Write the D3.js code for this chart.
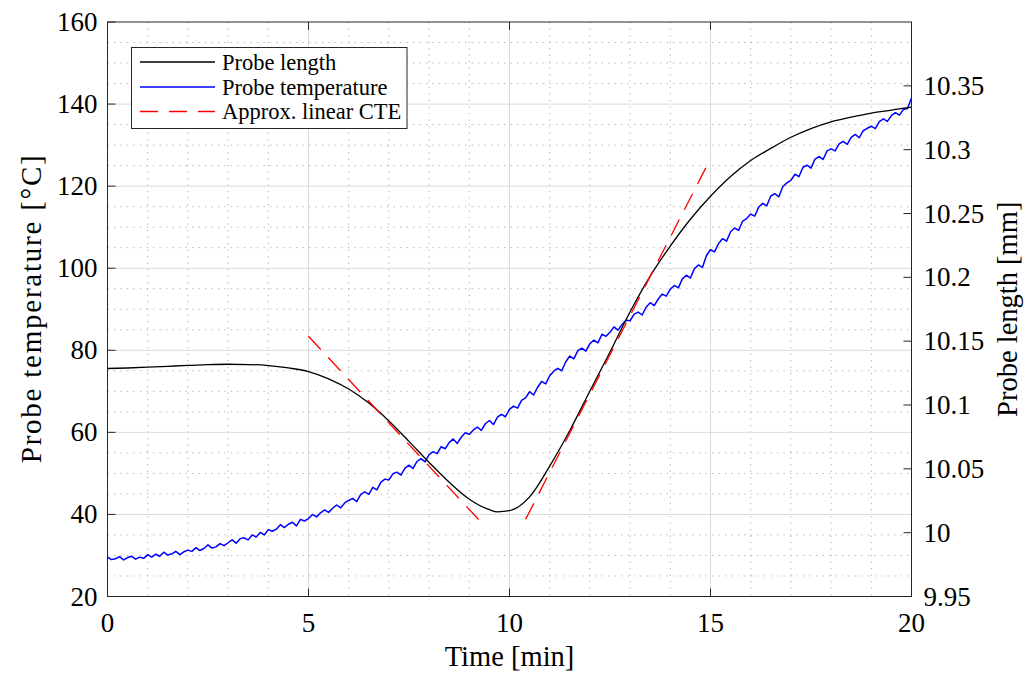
<!DOCTYPE html>
<html>
<head>
<meta charset="utf-8">
<script src="https://cdn.jsdelivr.net/npm/d3@7"></script>
<style>
  body { margin: 0; background: #fff; }
  svg { display: block; font-family: "Liberation Serif", "Times New Roman", serif; }
</style>
</head>
<body>
<svg id="chart" width="1027" height="675"></svg>
<script>
'use strict';

// time axis [min]
var timeTicks = [0, 5, 10, 15, 20];
var tempTicks = [20, 40, 60, 80, 100, 120, 140, 160];
var lengthTicks = [9.95, 10, 10.05, 10.1, 10.15, 10.2, 10.25, 10.3, 10.35];
var lengthTickLabels = ['9.95', '10', '10.05', '10.1', '10.15', '10.2', '10.25', '10.3', '10.35'];

// probe length [mm]
var lengthTime = [0, 0.5, 1, 1.5, 2, 2.5, 3, 3.5, 4, 4.5, 5, 5.5, 6, 6.5, 7, 7.5, 8, 8.5, 9, 9.5,
  9.7, 10, 10.5, 11, 11.5, 12, 12.5, 13, 13.5, 14, 14.5, 15, 15.5, 16, 16.5, 17, 17.5, 18, 18.5,
  19, 19.5, 20];
var lengthValues = [10.1286, 10.1290, 10.1296, 10.1303, 10.1310, 10.1316, 10.1319, 10.1317,
  10.1309, 10.1290, 10.1262, 10.1205, 10.1125, 10.1015, 10.0875, 10.0715, 10.0550, 10.0395,
  10.0262, 10.0180, 10.0163, 10.0172, 10.0280, 10.0521, 10.0800, 10.1110, 10.1415, 10.1730,
  10.2010, 10.2245, 10.2455, 10.2635, 10.2790, 10.2915, 10.3010, 10.3097, 10.3165, 10.3218,
  10.3255, 10.3287, 10.3310, 10.3333];

// probe temperature [degC], one sample every 0.1 min
var tempValues = [
  29.6, 29.0, 29.2, 29.7, 28.9, 29.5, 29.8, 29.1, 29.6, 29.3,
  30.2, 29.6, 30.3, 29.8, 30.8, 30.1, 30.4, 31.0, 30.2, 30.9,
  31.3, 31.0, 31.9, 31.2, 31.7, 32.6, 31.8, 32.1, 32.9, 32.4,
  33.1, 33.8, 33.0, 34.1, 34.3, 33.8, 35.0, 34.5, 35.6, 35.0,
  36.3, 35.9, 36.4, 37.5, 36.8, 37.6, 38.1, 37.2, 38.8, 38.4,
  39.0, 40.0, 39.4, 40.4, 41.1, 40.5, 41.5, 42.3, 41.6, 42.8,
  43.4, 43.9, 43.1, 44.9, 45.5, 44.9, 46.6, 46.0, 47.8, 48.6,
  48.4, 49.9, 50.3, 49.6, 51.3, 52.0, 51.2, 52.9, 53.6, 52.8,
  54.6, 55.3, 54.8, 56.5, 56.0, 57.5, 58.4, 57.3, 58.8, 59.9,
  59.5, 60.6, 61.3, 60.5, 62.1, 62.9, 61.9, 63.7, 64.4, 63.8,
  65.6, 66.4, 65.9, 67.8, 68.4, 69.9, 69.1, 71.0, 72.4, 71.8,
  73.8, 74.9, 75.6, 75.0, 77.2, 78.6, 77.9, 79.9, 80.5, 79.8,
  81.6, 82.5, 81.8, 83.9, 83.4, 84.4, 85.7, 84.9, 86.3, 87.3,
  87.2, 88.8, 89.3, 88.6, 90.5, 91.6, 90.9, 92.5, 93.7, 93.2,
  94.9, 95.8, 95.2, 97.4, 98.3, 97.6, 99.9, 100.8, 100.2, 103.1,
  104.5, 104.0, 106.0, 107.2, 106.6, 108.9, 109.8, 109.2, 111.5, 112.1,
  113.2, 112.7, 114.9, 115.8, 115.2, 117.6, 118.2, 117.4, 119.9, 120.8,
  121.4, 122.9, 122.3, 124.6, 125.1, 124.4, 126.6, 127.2, 126.5, 128.6,
  129.1, 128.6, 130.3, 130.9, 130.2, 131.9, 132.6, 131.8, 133.5, 134.1,
  134.6, 134.0, 135.7, 136.4, 135.8, 137.2, 137.9, 137.3, 138.7, 138.9,
  141.5];
var tempStep = 0.1;

// approx. linear CTE fits, two segments: [t, mm]
var cteCooling = [[5.0, 10.1538], [9.4, 10.0046]];
var cteHeating = [[10.4, 10.0104], [15.0, 10.2929]];

var legendLabels = ['Probe length', 'Probe temperature', 'Approx. linear CTE'];

var axisColor = '#262626';
var plot = {left: 107.5, right: 911.5, top: 22, bottom: 596.5};

var svg = d3.select('#chart');

var x = d3.scaleLinear().domain([0, 20]).range([plot.left, plot.right]);
var yTemp = d3.scaleLinear().domain([20, 160]).range([plot.bottom, plot.top]);
var yLen = d3.scaleLinear().domain([9.95, 10.40]).range([plot.bottom, plot.top]);

// grid
var grid = svg.append('g');
grid.selectAll('line.minor-x')
  .data(d3.range(1, 20).filter(function(d) { return d % 5 !== 0; }))
  .enter().append('line')
  .attr('x1', function(d) { return x(d); })
  .attr('x2', function(d) { return x(d); })
  .attr('y1', plot.top).attr('y2', plot.bottom)
  .attr('stroke', '#b0b0b0').attr('stroke-width', 1)
  .attr('stroke-dasharray', '1.3,5.2');
grid.selectAll('line.minor-y')
  .data(d3.range(25, 160, 5).filter(function(d) { return d % 20 !== 0; }))
  .enter().append('line')
  .attr('x1', plot.left).attr('x2', plot.right)
  .attr('y1', function(d) { return yTemp(d); })
  .attr('y2', function(d) { return yTemp(d); })
  .attr('stroke', '#b0b0b0').attr('stroke-width', 1)
  .attr('stroke-dasharray', '1.3,5.2');
grid.selectAll('line.major-x')
  .data(timeTicks.slice(1, -1))
  .enter().append('line')
  .attr('x1', function(d) { return x(d); })
  .attr('x2', function(d) { return x(d); })
  .attr('y1', plot.top).attr('y2', plot.bottom)
  .attr('stroke', '#dadada').attr('stroke-width', 1);
grid.selectAll('line.major-y')
  .data(tempTicks.slice(1, -1))
  .enter().append('line')
  .attr('x1', plot.left).attr('x2', plot.right)
  .attr('y1', function(d) { return yTemp(d); })
  .attr('y2', function(d) { return yTemp(d); })
  .attr('stroke', '#dadada').attr('stroke-width', 1);

// series
var tempLine = d3.line()
  .x(function(d, i) { return x(i * tempStep); })
  .y(function(d) { return yTemp(d); });
var lengthLine = d3.line()
  .curve(d3.curveMonotoneX)
  .x(function(d, i) { return x(lengthTime[i]); })
  .y(function(d) { return yLen(d); });
var cteLine = d3.line()
  .x(function(d) { return x(d[0]); })
  .y(function(d) { return yLen(d[1]); });

svg.append('path')
  .attr('d', tempLine(tempValues))
  .attr('fill', 'none').attr('stroke', '#0000ff').attr('stroke-width', 1.5)
  .attr('stroke-linejoin', 'round');
svg.append('path')
  .attr('d', lengthLine(lengthValues))
  .attr('fill', 'none').attr('stroke', '#000').attr('stroke-width', 1.3);
[cteCooling, cteHeating].forEach(function(seg) {
  svg.append('path')
    .attr('d', cteLine(seg))
    .attr('fill', 'none').attr('stroke', '#ff0000').attr('stroke-width', 1.3)
    .attr('stroke-dasharray', '18,11');
});

// axes
var tickLen = 8;
var axes = svg.append('g').attr('stroke', axisColor).attr('stroke-width', 1);
axes.append('rect')
  .attr('x', plot.left).attr('y', plot.top)
  .attr('width', plot.right - plot.left).attr('height', plot.bottom - plot.top)
  .attr('fill', 'none');
timeTicks.forEach(function(d) {
  axes.append('line').attr('x1', x(d)).attr('x2', x(d))
    .attr('y1', plot.bottom).attr('y2', plot.bottom - tickLen);
  axes.append('line').attr('x1', x(d)).attr('x2', x(d))
    .attr('y1', plot.top).attr('y2', plot.top + tickLen);
});
tempTicks.forEach(function(d) {
  axes.append('line').attr('x1', plot.left).attr('x2', plot.left + tickLen)
    .attr('y1', yTemp(d)).attr('y2', yTemp(d));
});
lengthTicks.forEach(function(d) {
  axes.append('line').attr('x1', plot.right).attr('x2', plot.right - tickLen)
    .attr('y1', yLen(d)).attr('y2', yLen(d));
});

var labels = svg.append('g').attr('fill', '#000').attr('font-size', 27);
labels.selectAll('text.xt')
  .data(timeTicks).enter().append('text')
  .attr('x', function(d) { return x(d); })
  .attr('y', 632)
  .attr('text-anchor', 'middle')
  .text(function(d) { return d; });
labels.selectAll('text.yl')
  .data(tempTicks).enter().append('text')
  .attr('x', plot.left - 10)
  .attr('y', function(d) { return yTemp(d) + 9; })
  .attr('text-anchor', 'end')
  .text(function(d) { return d; });
labels.selectAll('text.yr')
  .data(lengthTicks).enter().append('text')
  .attr('x', plot.right + 12)
  .attr('y', function(d) { return yLen(d) + 9; })
  .text(function(d, i) { return lengthTickLabels[i]; });

labels.append('text')
  .attr('x', (plot.left + plot.right) / 2).attr('y', 666)
  .attr('text-anchor', 'middle').attr('font-size', 28.5)
  .text('Time [min]');
labels.append('text')
  .attr('transform', 'translate(41,' + ((plot.top + plot.bottom) / 2) + ') rotate(-90)')
  .attr('text-anchor', 'middle').attr('font-size', 29)
  .attr('textLength', 308).attr('lengthAdjust', 'spacing')
  .text('Probe temperature [\u00b0C]');
labels.append('text')
  .attr('transform', 'translate(1017,' + ((plot.top + plot.bottom) / 2) + ') rotate(-90)')
  .attr('text-anchor', 'middle').attr('font-size', 28.5)
  .text('Probe length [mm]');

// legend
var legend = svg.append('g');
legend.append('rect')
  .attr('x', 131.5).attr('y', 47.5).attr('width', 275.5).attr('height', 81)
  .attr('fill', '#fff').attr('stroke', axisColor).attr('stroke-width', 1);
var legendColors = ['#000', '#0000ff', '#ff0000'];
var legendDashes = ['none', 'none', '18,11'];
var legendRows = [62, 87, 111.5];
legendLabels.forEach(function(label, i) {
  legend.append('line')
    .attr('x1', 140).attr('x2', 215)
    .attr('y1', legendRows[i]).attr('y2', legendRows[i])
    .style('stroke', legendColors[i]).style('stroke-width', 1.3)
    .style('stroke-dasharray', legendDashes[i]);
  legend.append('text')
    .attr('x', 222).attr('y', legendRows[i] + 7.5)
    .attr('font-size', 22.5)
    .text(label);
});
</script>
</body>
</html>
